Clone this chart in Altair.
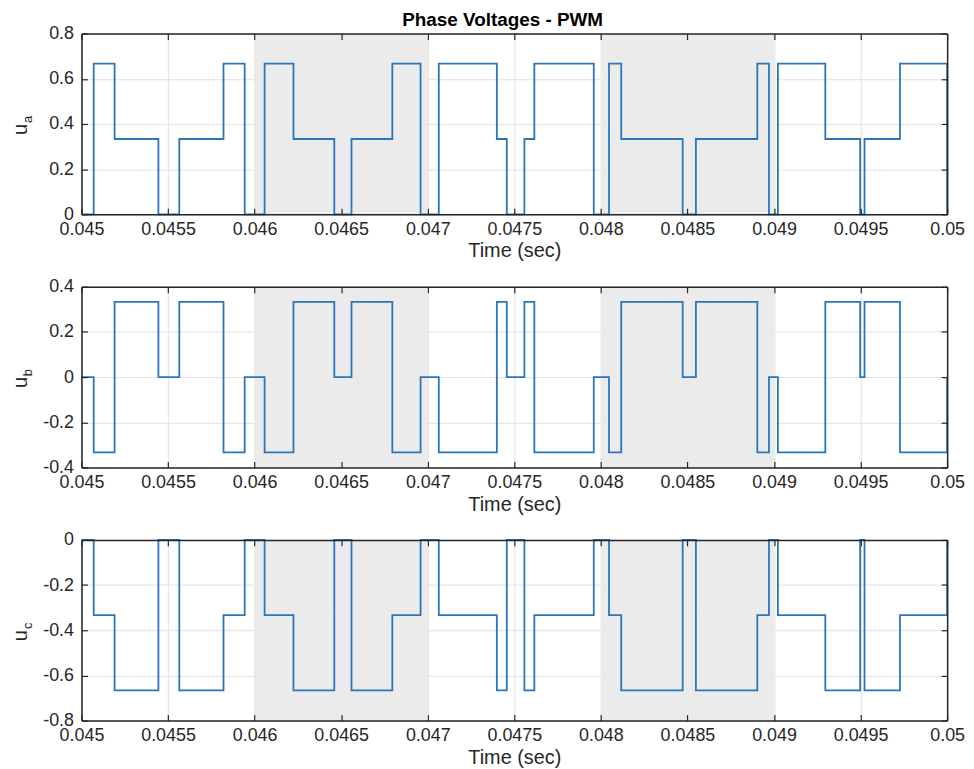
import altair as alt
import pandas as pd

# ---- data ----
t_points = [0.045, 0.0450707, 0.0451914, 0.0454444, 0.0455651, 0.0458204, 0.0459428,
            0.0460578, 0.0462246, 0.0464603, 0.0465597, 0.0467955, 0.0469587,
            0.0470639, 0.0473991, 0.0474566, 0.0475583, 0.0476158, 0.0479590,
            0.0480470, 0.0481177, 0.0484725, 0.0485489, 0.0489036, 0.0489709,
            0.0490226, 0.0492963, 0.0494975, 0.0495228, 0.0497275, 0.05]
u_a = [0, 0.6667, 0.3333, 0, 0.3333, 0.6667, 0, 0.6667, 0.3333, 0, 0.3333, 0.6667, 0,
       0.6667, 0.3333, 0, 0.3333, 0.6667, 0, 0.6667, 0.3333, 0, 0.3333, 0.6667, 0,
       0.6667, 0.3333, 0, 0.3333, 0.6667, 0]
u_b = [0, -0.3333, 0.3333, 0, 0.3333, -0.3333, 0, -0.3333, 0.3333, 0, 0.3333, -0.3333, 0,
       -0.3333, 0.3333, 0, 0.3333, -0.3333, 0, -0.3333, 0.3333, 0, 0.3333, -0.3333, 0,
       -0.3333, 0.3333, 0, 0.3333, -0.3333, 0]
u_c = [0, -0.3333, -0.6667, 0, -0.6667, -0.3333, 0, -0.3333, -0.6667, 0, -0.6667, -0.3333, 0,
       -0.3333, -0.6667, 0, -0.6667, -0.3333, 0, -0.3333, -0.6667, 0, -0.6667, -0.3333, 0,
       -0.3333, -0.6667, 0, -0.6667, -0.3333, 0]
shade_start = [0.046, 0.048]
shade_end = [0.047, 0.049]
x_ticks = [0.045, 0.0455, 0.046, 0.0465, 0.047, 0.0475, 0.048, 0.0485, 0.049, 0.0495, 0.05]
ya_ticks = [0, 0.2, 0.4, 0.6, 0.8]
yb_ticks = [-0.4, -0.2, 0, 0.2, 0.4]
yc_ticks = [-0.8, -0.6, -0.4, -0.2, 0]

W, H = 872, 182
FONT = "Liberation Sans"
DARK = "#262626"
LINE = "#2a76bb"
LABEL_EXPR = "replace(format(datum.value, '~g'), '\u2212', '-')"


def panel(vals, ydom, yticks, sub):
    df = pd.DataFrame({"t": t_points, "v": vals})
    shade = pd.DataFrame({"s": shade_start, "e": shade_end})
    xs = alt.Scale(domain=[0.045, 0.05], nice=False, zero=False)
    ys = alt.Scale(domain=ydom, nice=False, zero=False)

    def blank(**kw):
        base = dict(labels=False, ticks=False, domain=False, grid=False, title=None)
        base.update(kw)
        return alt.Axis(**base)

    grid = alt.Chart(df).mark_point(opacity=0).encode(
        x=alt.X("t:Q", scale=xs, axis=blank(orient="bottom", values=x_ticks, grid=True,
                                              gridColor="#e0e0e0", gridWidth=1, zindex=0)),
        y=alt.Y("v:Q", scale=ys, axis=blank(orient="left", values=yticks, grid=True,
                                              gridColor="#e0e0e0", gridWidth=1, zindex=0)),
    )
    rect = alt.Chart(shade).mark_rect(color="#ebebeb").encode(
        x=alt.X("s:Q", scale=xs, axis=None), x2="e:Q"
    )
    line = alt.Chart(df).mark_line(interpolate="step-after", color=LINE, strokeWidth=1.8).encode(
        x=alt.X("t:Q", scale=xs, axis=alt.Axis(
            orient="bottom", values=x_ticks, format="~g", grid=False, ticks=False, tickSize=0,
            domain=True, domainColor=DARK, domainWidth=1.5, labelFont=FONT, labelFontSize=18,
            labelColor=DARK, labelPadding=6, labelFlush=False, labelOverlap=False,
            labelBound=False, title="Time (sec)", titleFont=FONT, titleFontSize=20,
            titleFontWeight="normal", titleColor=DARK, titlePadding=3, zindex=1)),
        y=alt.Y("v:Q", scale=ys, axis=alt.Axis(
            orient="left", values=yticks, labelExpr=LABEL_EXPR, grid=False, ticks=False,
            tickSize=0, domain=True, domainColor=DARK, domainWidth=1.5, labelFont=FONT,
            labelFontSize=18, labelColor=DARK, labelPadding=8, labelFlush=False,
            labelOverlap=False, labelBound=False, title="u", titleFont=FONT, titleFontSize=20,
            titleFontWeight="normal", titleColor=DARK, titleAngle=270, titleX=-55,
            titleY=H / 2 + 5, titleAlign="center", titleBaseline="alphabetic", zindex=1)),
    )
    frame = alt.Chart(df).mark_point(opacity=0).encode(
        x=alt.X("t:Q", scale=xs, axis=blank(orient="top", domain=True, domainColor=DARK,
                                              domainWidth=1.5, values=x_ticks, zindex=1)),
        y=alt.Y("v:Q", scale=ys, axis=blank(orient="right", domain=True, domainColor=DARK,
                                              domainWidth=1.5, values=yticks, zindex=1)),
    )
    tick_a = alt.Chart(df).mark_point(opacity=0).encode(
        x=alt.X("t:Q", scale=xs, axis=blank(orient="bottom", ticks=True, tickSize=6,
                                              tickColor=DARK, tickWidth=1.2, offset=-6,
                                              values=x_ticks, zindex=1)),
        y=alt.Y("v:Q", scale=ys, axis=blank(orient="left", ticks=True, tickSize=6,
                                              tickColor=DARK, tickWidth=1.2, offset=-6,
                                              values=yticks, zindex=1)),
    )
    tick_b = alt.Chart(df).mark_point(opacity=0).encode(
        x=alt.X("t:Q", scale=xs, axis=blank(orient="top", ticks=True, tickSize=6,
                                              tickColor=DARK, tickWidth=1.2, offset=-6,
                                              values=x_ticks, zindex=1)),
        y=alt.Y("v:Q", scale=ys, axis=blank(orient="right", ticks=True, tickSize=6,
                                              tickColor=DARK, tickWidth=1.2, offset=-6,
                                              values=yticks, zindex=1)),
    )
    subtxt = alt.Chart(pd.DataFrame({"s": [sub]})).mark_text(
        angle=270, font=FONT, fontSize=13, color=DARK, align="center", baseline="alphabetic"
    ).encode(text="s:N", x=alt.value(-50), y=alt.value(H / 2 + 5 - 9.5))

    return alt.layer(grid, rect, line, frame, tick_a, tick_b, subtxt).resolve_axis(
        x="independent", y="independent"
    ).properties(width=W, height=H)


chart = alt.vconcat(
    panel(u_a, [0, 0.8], ya_ticks, "a"),
    panel(u_b, [-0.4, 0.4], yb_ticks, "b"),
    panel(u_c, [-0.8, 0], yc_ticks, "c"),
    spacing=15,
).properties(
    title=alt.TitleParams("Phase Voltages - PWM", font=FONT, fontSize=19, fontWeight="bold",
                          color="#000000", anchor="middle", offset=-6, dx=15),
    padding={"left": 2, "top": 0, "right": 0, "bottom": 0},
).configure_view(stroke=None).configure(background="white")

chart.save("out.html", embed_options={"renderer": "svg", "actions": False})
